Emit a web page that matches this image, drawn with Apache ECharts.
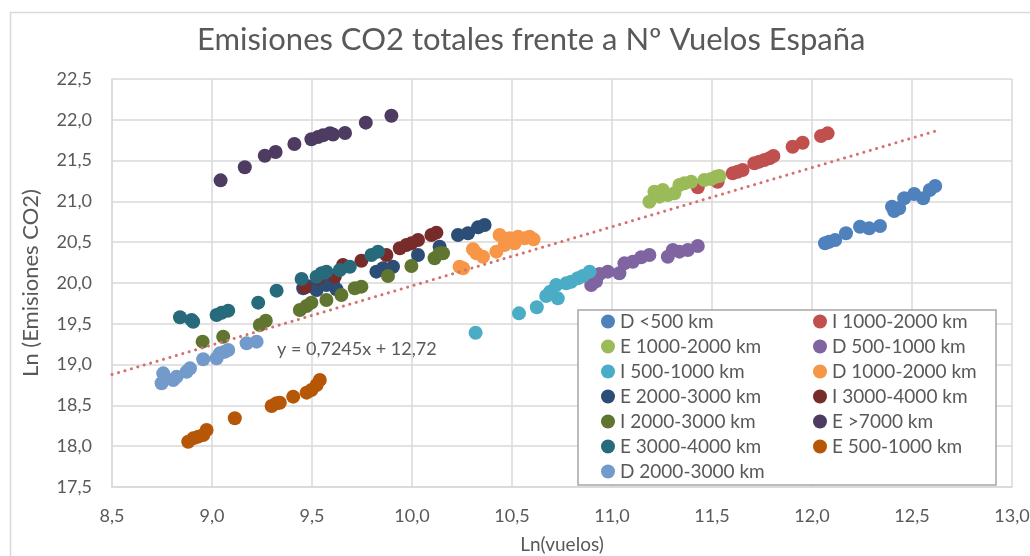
<!DOCTYPE html>
<html>
<head>
<meta charset="utf-8">
<script src="https://cdn.jsdelivr.net/npm/echarts@6/dist/echarts.min.js"></script>
<style>
  html, body { margin: 0; padding: 0; background: #ffffff; }
  #chart { width: 1030px; height: 556px; }
</style>
</head>
<body>
<div id="chart"></div>
<script>
// Ln(vuelos) vs Ln(emisiones CO2), one array of [x, y] per route group
const dLt500 = [[12.065,20.487],[12.086,20.506],[12.116,20.527],[12.170,20.609],[12.240,20.690],[12.286,20.670],[12.340,20.698],[12.400,20.935],[12.411,20.882],[12.436,20.915],[12.461,21.038],[12.511,21.090],[12.556,21.038],[12.589,21.140],[12.616,21.189]];
const i1000_2000 = [[11.429,21.173],[11.528,21.241],[11.603,21.344],[11.628,21.364],[11.653,21.385],[11.712,21.467],[11.737,21.487],[11.762,21.507],[11.787,21.528],[11.807,21.556],[11.903,21.670],[11.953,21.719],[12.045,21.801],[12.078,21.834]];
const e1000_2000 = [[11.187,20.996],[11.212,21.119],[11.237,21.058],[11.254,21.140],[11.279,21.078],[11.312,21.099],[11.337,21.201],[11.362,21.222],[11.396,21.241],[11.462,21.262],[11.496,21.274],[11.521,21.303],[11.537,21.311]];
const d500_1000 = [[10.896,19.975],[10.920,20.020],[10.938,20.110],[10.979,20.139],[11.037,20.119],[11.062,20.241],[11.104,20.261],[11.146,20.315],[11.187,20.343],[11.279,20.322],[11.304,20.404],[11.337,20.384],[11.379,20.404],[11.429,20.453]];
const i500_1000 = [[10.318,19.391],[10.535,19.628],[10.624,19.702],[10.671,19.841],[10.691,19.894],[10.721,19.975],[10.729,19.812],[10.771,19.996],[10.796,20.016],[10.829,20.058],[10.854,20.086],[10.888,20.139]];
const d1000_2000 = [[10.238,20.200],[10.255,20.180],[10.305,20.413],[10.322,20.364],[10.355,20.322],[10.422,20.384],[10.438,20.588],[10.463,20.466],[10.488,20.548],[10.513,20.486],[10.530,20.567],[10.563,20.548],[10.588,20.567],[10.608,20.535]];
const e2000_3000 = [[9.456,19.935],[9.480,19.960],[9.523,19.914],[9.572,19.975],[9.605,19.996],[9.622,19.923],[9.822,20.139],[9.855,20.180],[9.905,20.200],[10.030,20.343],[10.138,20.445],[10.230,20.588],[10.280,20.609],[10.330,20.682],[10.363,20.711]];
const i3000_4000 = [[9.464,19.947],[9.530,20.058],[9.614,20.077],[9.655,20.220],[9.747,20.273],[9.872,20.343],[9.939,20.425],[9.972,20.466],[9.997,20.486],[10.030,20.527],[10.097,20.588],[10.122,20.617]];
const i2000_3000 = [[8.953,19.281],[9.056,19.342],[9.239,19.485],[9.269,19.538],[9.439,19.669],[9.473,19.718],[9.497,19.759],[9.572,19.792],[9.647,19.853],[9.714,19.935],[9.747,19.955],[9.880,20.086],[9.997,20.208],[10.113,20.303],[10.138,20.364],[10.155,20.364]];
const eGt7000 = [[9.043,21.258],[9.164,21.418],[9.264,21.560],[9.318,21.605],[9.412,21.703],[9.497,21.761],[9.530,21.790],[9.555,21.810],[9.590,21.835],[9.605,21.820],[9.665,21.838],[9.769,21.965],[9.897,22.050]];
const e3000_4000 = [[8.840,19.580],[8.898,19.547],[8.906,19.526],[9.023,19.608],[9.048,19.636],[9.081,19.661],[9.231,19.759],[9.323,19.906],[9.448,20.050],[9.523,20.077],[9.548,20.119],[9.572,20.139],[9.639,20.159],[9.689,20.200],[9.797,20.343],[9.830,20.384]];
const e500_1000 = [[8.881,18.055],[8.906,18.096],[8.931,18.117],[8.956,18.137],[8.973,18.199],[9.114,18.342],[9.298,18.493],[9.323,18.526],[9.339,18.533],[9.406,18.607],[9.473,18.656],[9.497,18.689],[9.523,18.750],[9.539,18.811]];
const d2000_3000 = [[8.748,18.771],[8.756,18.893],[8.806,18.811],[8.823,18.852],[8.873,18.913],[8.890,18.954],[8.956,19.065],[9.023,19.077],[9.039,19.138],[9.064,19.158],[9.081,19.179],[9.173,19.261],[9.223,19.281]];

const seriesNames = ['D <500 km','I 1000-2000 km','E 1000-2000 km','D 500-1000 km','I 500-1000 km','D 1000-2000 km','E 2000-3000 km','I 3000-4000 km','I 2000-3000 km','E >7000 km','E 3000-4000 km','E 500-1000 km','D 2000-3000 km'];
const seriesData = [dLt500, i1000_2000, e1000_2000, d500_1000, i500_1000, d1000_2000, e2000_3000, i3000_4000, i2000_3000, eGt7000, e3000_4000, e500_1000, d2000_3000];
const seriesColors = ['#4F81BD','#C0504D','#9BBB59','#8064A2','#4BACC6','#F79646','#2C4D75','#772C2A','#5F7530','#4D3B62','#276A7C','#B65708','#729ACA'];

// Linear trend over all groups, as stated in its label
const trendSlope = 0.7245;
const trendIntercept = 12.72;
const trendXRange = [8.5, 12.62];
const trendLabel = 'y = 0,7245x + 12,72';

// Axis ranges
const xMin = 8.5, xMax = 13.0, xStep = 0.5;
const yMin = 17.5, yMax = 22.5, yStep = 0.5;

const FONT = 'Lato, "Open Sans", sans-serif';
const TEXT = '#595959';
const GRID = '#d9d9d9';
const comma = v => v.toFixed(1).replace('.', ',');

const chart = echarts.init(document.getElementById('chart'), null, { renderer: 'canvas' });

const scatterSeries = seriesNames.map((name, i) => ({
  name,
  type: 'scatter',
  data: seriesData[i],
  symbol: 'circle',
  symbolSize: 14,
  itemStyle: { color: seriesColors[i], opacity: 1 },
  emphasis: { disabled: true },
  z: 2 + i * 0.01
}));

const trendSeries = {
  name: 'trend',
  type: 'line',
  data: trendXRange.map(x => [x, trendSlope * x + trendIntercept]),
  symbol: 'none',
  silent: true,
  lineStyle: { color: '#D4716E', width: 3, type: [0.1, 6.6], cap: 'round' },
  z: 5
};

// Legend split into two columns, filled row by row
const colA = seriesNames.filter((_, i) => i % 2 === 0);
const colB = seriesNames.filter((_, i) => i % 2 === 1);
const legendBase = {
  orient: 'vertical',
  top: 309,
  icon: 'circle',
  itemWidth: 14,
  itemHeight: 14,
  itemGap: 0,
  padding: 0,
  selectedMode: false,
  textStyle: { fontFamily: FONT, fontSize: 19, color: TEXT, lineHeight: 25 }
};

chart.setOption({
  backgroundColor: '#ffffff',
  animation: false,
  title: {
    text: 'Emisiones CO2 totales frente a Nº Vuelos España',
    left: 192,
    top: 19,
    textStyle: { fontFamily: FONT, fontSize: 31, fontWeight: 'normal', color: TEXT }
  },
  legend: [
    Object.assign({}, legendBase, { left: 601, data: colA }),
    Object.assign({}, legendBase, { left: 813, data: colB })
  ],
  grid: { left: 112, right: 18, top: 79, bottom: 69, containLabel: false, outerBoundsMode: 'none' },
  xAxis: {
    type: 'value',
    min: xMin, max: xMax, interval: xStep,
    name: 'Ln(vuelos)',
    nameLocation: 'middle',
    nameGap: 48,
    nameTextStyle: { fontFamily: FONT, fontSize: 19, color: TEXT },
    axisLine: { show: true, lineStyle: { color: GRID, width: 1.5 } },
    axisTick: { show: false },
    splitLine: { show: true, lineStyle: { color: GRID, width: 1.5 } },
    axisLabel: { fontFamily: FONT, fontSize: 18, color: TEXT, margin: 20, formatter: comma, showMinLabel: true, showMaxLabel: true }
  },
  yAxis: {
    type: 'value',
    min: yMin, max: yMax, interval: yStep,
    name: 'Ln (Emisiones CO2)',
    nameLocation: 'middle',
    nameGap: 70,
    nameRotate: 90,
    nameTextStyle: { fontFamily: FONT, fontSize: 22, color: TEXT },
    axisLine: { show: true, lineStyle: { color: GRID, width: 1.5 } },
    axisTick: { show: false },
    splitLine: { show: true, lineStyle: { color: GRID, width: 1.5 } },
    axisLabel: { fontFamily: FONT, fontSize: 18, color: TEXT, margin: 20, formatter: comma, showMinLabel: true, showMaxLabel: true }
  },
  graphic: [
    {
      type: 'rect',
      silent: true,
      shape: { x: 10.5, y: 12.5, width: 1040, height: 560 },
      style: { fill: 'none', stroke: GRID, lineWidth: 1.5 },
      z: -1
    },
    {
      type: 'rect',
      silent: true,
      shape: { x: 578, y: 310, width: 418, height: 175 },
      style: { fill: '#ffffff', stroke: '#a6a6a6', lineWidth: 1.5 },
      z: 3
    },
    {
      type: 'text',
      silent: true,
      left: 277,
      top: 340,
      style: { text: trendLabel, font: '18px ' + FONT, fill: TEXT },
      z: 6
    }
  ],
  series: scatterSeries.concat([trendSeries])
});
</script>
</body>
</html>
